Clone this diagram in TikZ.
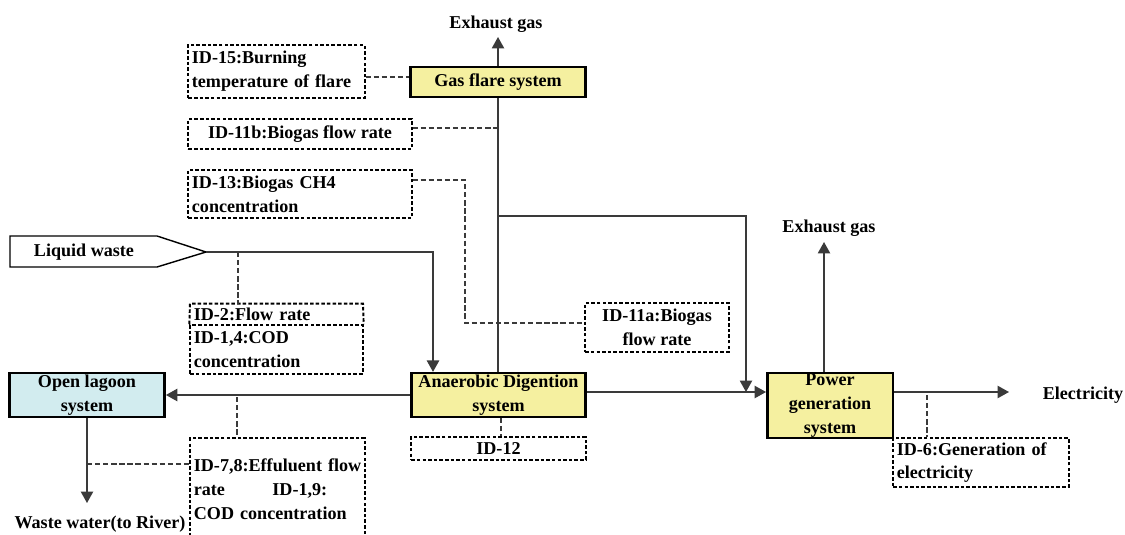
\documentclass[tikz,border=0pt]{standalone}
\usepackage{fontspec}
\setmainfont{Liberation Serif}
\usetikzlibrary{arrows.meta,calc}
\definecolor{boxyellow}{HTML}{F5F0A0}
\definecolor{boxcyan}{HTML}{D2ECEF}
\definecolor{linegray}{HTML}{3A3A3A}
\begin{document}
\begin{tikzpicture}[x=0.02cm,y=-0.02cm,
  every node/.style={font=\bfseries\fontsize{10.3}{13.5}\selectfont, inner sep=0pt},
  sysbox/.style={draw=black, line width=1.4pt, align=center},
  idline/.style={draw=black, line width=1.1pt, dash pattern=on 2pt off 1.2pt},
  idbox/.style={idline, inner xsep=2pt},
  conn/.style={draw=linegray, line width=0.85pt},
  arr/.style={conn, -{Triangle[width=7pt,length=6.5pt]}},
  dsh/.style={draw=linegray, line width=0.7pt, dash pattern=on 3pt off 1.6pt},
]
\clip (0,0) rectangle (1125,534);

% system boxes
\node[sysbox, fill=boxyellow, minimum width=99.8pt, minimum height=17pt] (flare) at (498,82) {Gas flare system};
\node[sysbox, fill=boxyellow, minimum width=99.2pt, minimum height=24.9pt] (ads) at (498.5,395) {Anaerobic Digention\\system};
\node[sysbox, fill=boxcyan, minimum width=88.4pt, minimum height=24.9pt] (lagoon) at (87,395) {Open lagoon\\system};
\node[sysbox, fill=boxyellow, minimum width=71.4pt, minimum height=36.8pt] (pwr) at (830,405.5) {Power\\generation\\system};

% monitoring boxes
\node[idbox, minimum height=30pt, text width=96.3pt, align=left] (id15) at (276.5,71.5) {ID-15:Burning\\temperature of flare};
\node[idbox, minimum height=17pt, minimum width=127pt, align=center] (id11b) at (300,134) {ID-11b:Biogas flow rate};
\node[idbox, minimum height=27.2pt, text width=123pt, align=left] (id13) at (300,194) {ID-13:Biogas CH4\\concentration};
\node[idbox, minimum height=27.8pt, minimum width=81.6pt, align=center] (id11a) at (657,327.5) {ID-11a:Biogas\\flow rate};
\node[idbox, minimum height=13pt, minimum width=99.2pt, align=center] (id12) at (498.5,448.5) {ID-12};
\node[inner xsep=2pt, minimum height=11.9pt, text width=94.1pt, align=left] (id2) at (276.5,314.5) {ID-2:Flow rate};
\node[idbox, minimum height=27.8pt, text width=94.1pt, align=left] (id14) at (276.5,349.5) {ID-1,4:COD\\concentration};
\draw[idline] (id14.north west) -- (id2.north west) -- (id2.north east) -- (id14.north east);
\node[idbox, minimum height=57.8pt, text width=95.2pt, align=left] (id78) at (277.5,489) {\mbox{ID-7,8:Effuluent flow}\\rate\hspace*{27pt}ID-1,9:\\COD concentration};
\node[idbox, minimum height=27.8pt, text width=95.8pt, align=left] (id6) at (981,462.5) {ID-6:Generation of\\electricity};

% labels
\node (ex1) at (496,24) {Exhaust gas};
\node (ex2) at (829,228) {Exhaust gas};
\node (elec) at (1083,395) {Electricity};
\node (ww) at (100,524) {Waste water(to River)};

% liquid waste input
\draw[line width=0.8pt] (10,236) -- (157,236) -- (206,252) -- (157,267) -- (10,267) -- cycle;
\node (lwtext) at (84,252) {Liquid waste};
\coordinate (lwtip) at (206,252);
\coordinate (lwturn) at (433,252);
\draw[arr] (lwtip) -- (lwturn) -- (lwturn |- ads.north);
\coordinate (d2) at (238,252);
\draw[dsh] (d2) -- (d2 |- id2.north);

% gas flare
\coordinate (ex1tip) at (498,37);
\draw[arr] (flare.north) -- (ex1tip);
\draw[dsh] ($(id15.east)+(0,5.5)$) -- ($(id15.east -| flare.west)+(0,5.5)$);
\draw[conn] (flare.south) -- (flare.south |- ads.north);
\draw[dsh] ($(id11b.east)+(0,-6)$) -- ($(id11b.east -| flare.south)+(0,-6)$);

% biogas branch to power
\coordinate (j1) at (498,216);
\coordinate (j2) at (746,216);
\coordinate (adsR) at ($(ads.east)+(0,-3)$);
\draw[arr] (adsR) -- (adsR -| pwr.west);
\draw[arr] (j1) -- (j2) -- (j2 |- adsR);

% CH4 / flow rate monitoring
\coordinate (d13) at (465,180);
\coordinate (d11a) at (465,323);
\draw[dsh] (id13.east |- d13) -- (d13) -- (d11a) -- (d11a -| id11a.west);

% ID-12
\draw[dsh] ($(ads.south)+(2.5,0)$) -- ($(id12.north)+(2.5,0)$);

% lagoon
\draw[arr] (ads.west) -- (ads.west -| lagoon.east);
\coordinate (d78) at (237,397);
\draw[dsh] (d78) -- (d78 |- id78.north);
\coordinate (wwtip) at (87,503);
\draw[arr] (lagoon.south) -- (wwtip);
\coordinate (d78b) at (87,464);
\draw[dsh] (d78b) -- (d78b -| id78.west);

% power generation
\coordinate (ex2tip) at (824,242);
\draw[arr] (pwr.north -| ex2tip) -- (ex2tip);
\coordinate (eltip) at (1009,392);
\draw[arr] (pwr.east |- eltip) -- (eltip);
\coordinate (d6) at (927,395);
\draw[dsh] (d6) -- (d6 |- id6.north);
\end{tikzpicture}
\end{document}
